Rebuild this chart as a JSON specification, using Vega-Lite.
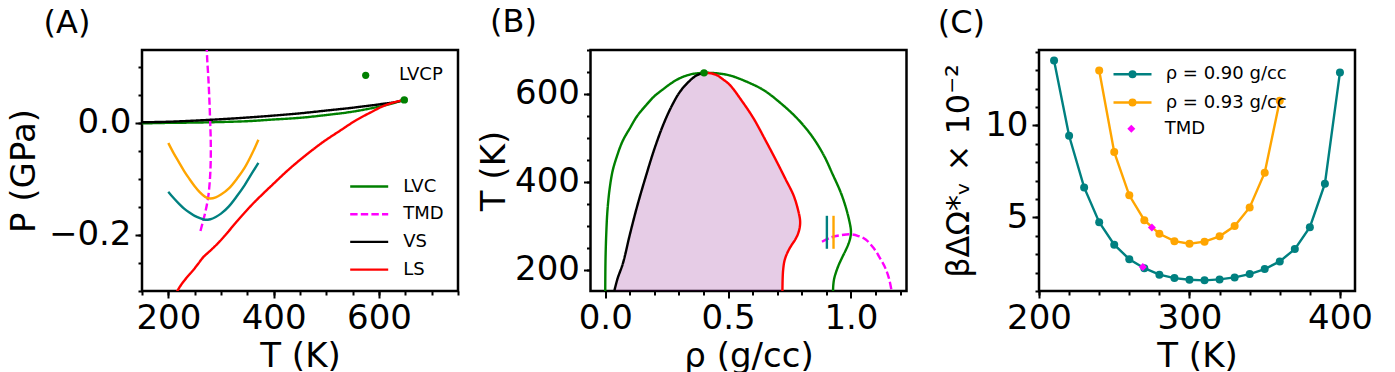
{
 "$schema": "https://vega.github.io/schema/vega-lite/v6.json",
 "padding": {"left": 5, "top": 4, "right": 10, "bottom": 2},
 "bounds": "flush",
 "spacing": 132.5,
 "config": {
  "font": "DejaVu Sans",
  "view": {"stroke": "black", "strokeWidth": 2.5},
  "axis": {"grid": false, "domain": false, "labelFont": "DejaVu Sans", "labelFontSize": 34, "labelColor": "black", "titleFont": "DejaVu Sans", "titleFontSize": 34, "titleFontWeight": "normal", "titleColor": "black", "tickColor": "black", "tickWidth": 2, "labelOverlap": false, "labelFlush": false, "titleBaseline": "alphabetic"},
  "axisX": {"labelPadding": 3, "titleY": 75},
  "axisY": {"labelPadding": 4},
  "legend": {"labelFont": "DejaVu Sans", "labelFontSize": 18, "labelColor": "black", "padding": 0, "orient": "none"},
  "title": {"font": "DejaVu Sans", "fontSize": 32, "fontWeight": "normal", "color": "black", "anchor": "start", "frame": "group", "baseline": "alphabetic", "offset": 10}
 },
 "resolve": {"scale": {"color": "independent", "shape": "independent", "strokeDash": "independent", "stroke": "independent"}, "legend": {"color": "independent", "shape": "independent", "strokeDash": "independent"}},
 "datasets": {
  "A_lines": [
   {"curve":"LVC","T":150,"P":-0.001},{"curve":"LVC","T":200,"P":0.0},{"curve":"LVC","T":250,"P":0.0005},{"curve":"LVC","T":300,"P":0.0015},{"curve":"LVC","T":350,"P":0.003},{"curve":"LVC","T":400,"P":0.006},{"curve":"LVC","T":450,"P":0.009},{"curve":"LVC","T":500,"P":0.014},{"curve":"LVC","T":550,"P":0.020},{"curve":"LVC","T":600,"P":0.029},{"curve":"LVC","T":630,"P":0.036},{"curve":"LVC","T":648,"P":0.041},
   {"curve":"TMD","T":261,"P":-0.193},{"curve":"TMD","T":266,"P":-0.175},{"curve":"TMD","T":271,"P":-0.156},{"curve":"TMD","T":276,"P":-0.130},{"curve":"TMD","T":279,"P":-0.100},{"curve":"TMD","T":280.5,"P":-0.067},{"curve":"TMD","T":280.5,"P":-0.030},{"curve":"TMD","T":279.5,"P":0.0},{"curve":"TMD","T":278,"P":0.04},{"curve":"TMD","T":276,"P":0.08},{"curve":"TMD","T":274,"P":0.11},{"curve":"TMD","T":273,"P":0.13},{"curve":"TMD","T":272.5,"P":0.14},
   {"curve":"VS","T":150,"P":0.001},{"curve":"VS","T":200,"P":0.002},{"curve":"VS","T":250,"P":0.004},{"curve":"VS","T":300,"P":0.0065},{"curve":"VS","T":350,"P":0.0095},{"curve":"VS","T":400,"P":0.013},{"curve":"VS","T":450,"P":0.017},{"curve":"VS","T":500,"P":0.022},{"curve":"VS","T":550,"P":0.027},{"curve":"VS","T":600,"P":0.033},{"curve":"VS","T":630,"P":0.037},{"curve":"VS","T":648,"P":0.041},
   {"curve":"LS","T":212,"P":-0.308},{"curve":"LS","T":217,"P":-0.300},{"curve":"LS","T":225,"P":-0.288},{"curve":"LS","T":235,"P":-0.276},{"curve":"LS","T":247,"P":-0.263},{"curve":"LS","T":257,"P":-0.251},{"curve":"LS","T":266,"P":-0.240},{"curve":"LS","T":282,"P":-0.226},{"curve":"LS","T":297,"P":-0.212},{"curve":"LS","T":313,"P":-0.195},{"curve":"LS","T":329,"P":-0.177},{"curve":"LS","T":346,"P":-0.159},{"curve":"LS","T":364,"P":-0.141},{"curve":"LS","T":397,"P":-0.111},{"curve":"LS","T":430,"P":-0.082},{"curve":"LS","T":462,"P":-0.057},{"curve":"LS","T":494,"P":-0.034},{"curve":"LS","T":526,"P":-0.014},{"curve":"LS","T":557,"P":0.005},{"curve":"LS","T":585,"P":0.019},{"curve":"LS","T":608,"P":0.030},{"curve":"LS","T":630,"P":0.037},{"curve":"LS","T":648,"P":0.041}
  ],
  "A_iso": [
   {"rho":"0.90","T":200,"P":-0.123},{"rho":"0.90","T":210,"P":-0.134},{"rho":"0.90","T":220,"P":-0.144},{"rho":"0.90","T":230,"P":-0.153},{"rho":"0.90","T":240,"P":-0.160},{"rho":"0.90","T":250,"P":-0.166},{"rho":"0.90","T":260,"P":-0.170},{"rho":"0.90","T":270,"P":-0.173},{"rho":"0.90","T":280,"P":-0.172},{"rho":"0.90","T":290,"P":-0.168},{"rho":"0.90","T":300,"P":-0.162},{"rho":"0.90","T":315,"P":-0.149},{"rho":"0.90","T":330,"P":-0.131},{"rho":"0.90","T":345,"P":-0.111},{"rho":"0.90","T":360,"P":-0.088},{"rho":"0.90","T":371,"P":-0.0715},
   {"rho":"0.93","T":200,"P":-0.036},{"rho":"0.93","T":210,"P":-0.054},{"rho":"0.93","T":220,"P":-0.070},{"rho":"0.93","T":230,"P":-0.086},{"rho":"0.93","T":240,"P":-0.100},{"rho":"0.93","T":250,"P":-0.113},{"rho":"0.93","T":260,"P":-0.124},{"rho":"0.93","T":270,"P":-0.132},{"rho":"0.93","T":280,"P":-0.135},{"rho":"0.93","T":290,"P":-0.133},{"rho":"0.93","T":300,"P":-0.128},{"rho":"0.93","T":315,"P":-0.117},{"rho":"0.93","T":330,"P":-0.100},{"rho":"0.93","T":345,"P":-0.080},{"rho":"0.93","T":360,"P":-0.053},{"rho":"0.93","T":371,"P":-0.030}
  ],
  "A_cp": [{"name":"LVCP","T":648,"P":0.041}],
  "B_area": [
   {"T":152,"rho_vs":0.036,"rho_ls":0.721},{"T":180,"rho_vs":0.050,"rho_ls":0.722},{"T":215,"rho_vs":0.072,"rho_ls":0.728},{"T":250,"rho_vs":0.087,"rho_ls":0.752},{"T":280,"rho_vs":0.100,"rho_ls":0.783},{"T":310,"rho_vs":0.114,"rho_ls":0.793},{"T":345,"rho_vs":0.130,"rho_ls":0.780},{"T":370,"rho_vs":0.143,"rho_ls":0.766},{"T":416,"rho_vs":0.167,"rho_ls":0.725},{"T":446,"rho_vs":0.184,"rho_ls":0.698},{"T":475,"rho_vs":0.200,"rho_ls":0.671},{"T":497,"rho_vs":0.214,"rho_ls":0.650},{"T":530,"rho_vs":0.236,"rho_ls":0.618},{"T":545,"rho_vs":0.248,"rho_ls":0.603},{"T":572,"rho_vs":0.270,"rho_ls":0.571},{"T":585,"rho_vs":0.283,"rho_ls":0.555},{"T":605,"rho_vs":0.304,"rho_ls":0.528},{"T":620,"rho_vs":0.327,"rho_ls":0.508},{"T":633,"rho_vs":0.351,"rho_ls":0.480},{"T":642,"rho_vs":0.371,"rho_ls":0.455},{"T":648,"rho_vs":0.402,"rho_ls":0.402}
  ],
  "B_lines": [
   {"curve":"LVC","rho":0.000,"T":152},{"curve":"LVC","rho":0.001,"T":220},{"curve":"LVC","rho":0.004,"T":280},{"curve":"LVC","rho":0.009,"T":335},{"curve":"LVC","rho":0.018,"T":385},{"curve":"LVC","rho":0.030,"T":425},{"curve":"LVC","rho":0.045,"T":454},{"curve":"LVC","rho":0.070,"T":492},{"curve":"LVC","rho":0.100,"T":522},{"curve":"LVC","rho":0.130,"T":550},{"curve":"LVC","rho":0.167,"T":575},{"curve":"LVC","rho":0.200,"T":595},{"curve":"LVC","rho":0.236,"T":611},{"curve":"LVC","rho":0.270,"T":625},{"curve":"LVC","rho":0.304,"T":636},{"curve":"LVC","rho":0.350,"T":645},{"curve":"LVC","rho":0.402,"T":648},{"curve":"LVC","rho":0.455,"T":647},{"curve":"LVC","rho":0.508,"T":642},{"curve":"LVC","rho":0.575,"T":628},{"curve":"LVC","rho":0.644,"T":609},{"curve":"LVC","rho":0.712,"T":580},{"curve":"LVC","rho":0.780,"T":545},{"curve":"LVC","rho":0.840,"T":505},{"curve":"LVC","rho":0.889,"T":461},{"curve":"LVC","rho":0.925,"T":418},{"curve":"LVC","rho":0.957,"T":378},{"curve":"LVC","rho":0.977,"T":346},{"curve":"LVC","rho":0.991,"T":317},{"curve":"LVC","rho":0.998,"T":298},{"curve":"LVC","rho":1.000,"T":287},{"curve":"LVC","rho":0.997,"T":272},{"curve":"LVC","rho":0.989,"T":258},{"curve":"LVC","rho":0.978,"T":244},{"curve":"LVC","rho":0.964,"T":228},{"curve":"LVC","rho":0.950,"T":211},{"curve":"LVC","rho":0.940,"T":196},{"curve":"LVC","rho":0.932,"T":181},{"curve":"LVC","rho":0.928,"T":165},{"curve":"LVC","rho":0.927,"T":150},
   {"curve":"VS","rho":0.036,"T":150},{"curve":"VS","rho":0.050,"T":180},{"curve":"VS","rho":0.072,"T":215},{"curve":"VS","rho":0.100,"T":280},{"curve":"VS","rho":0.130,"T":345},{"curve":"VS","rho":0.167,"T":416},{"curve":"VS","rho":0.200,"T":475},{"curve":"VS","rho":0.236,"T":530},{"curve":"VS","rho":0.270,"T":572},{"curve":"VS","rho":0.304,"T":605},{"curve":"VS","rho":0.340,"T":628},{"curve":"VS","rho":0.371,"T":642},{"curve":"VS","rho":0.402,"T":648},
   {"curve":"LS","rho":0.402,"T":648},{"curve":"LS","rho":0.430,"T":647},{"curve":"LS","rho":0.453,"T":643},{"curve":"LS","rho":0.480,"T":633},{"curve":"LS","rho":0.508,"T":620},{"curve":"LS","rho":0.555,"T":585},{"curve":"LS","rho":0.603,"T":545},{"curve":"LS","rho":0.650,"T":497},{"curve":"LS","rho":0.698,"T":446},{"curve":"LS","rho":0.735,"T":405},{"curve":"LS","rho":0.766,"T":370},{"curve":"LS","rho":0.783,"T":340},{"curve":"LS","rho":0.793,"T":312},{"curve":"LS","rho":0.791,"T":295},{"curve":"LS","rho":0.783,"T":280},{"curve":"LS","rho":0.770,"T":266},{"curve":"LS","rho":0.759,"T":257},{"curve":"LS","rho":0.742,"T":240},{"curve":"LS","rho":0.730,"T":222},{"curve":"LS","rho":0.724,"T":200},{"curve":"LS","rho":0.722,"T":180},{"curve":"LS","rho":0.721,"T":150},
   {"curve":"TMD","rho":0.882,"T":264},{"curve":"TMD","rho":0.920,"T":274},{"curve":"TMD","rho":0.960,"T":279},{"curve":"TMD","rho":0.998,"T":281},{"curve":"TMD","rho":1.030,"T":277},{"curve":"TMD","rho":1.060,"T":269},{"curve":"TMD","rho":1.093,"T":249},{"curve":"TMD","rho":1.120,"T":225},{"curve":"TMD","rho":1.140,"T":204},{"curve":"TMD","rho":1.155,"T":180},{"curve":"TMD","rho":1.166,"T":150}
  ],
  "B_rules": [{"curve":"0.90","rho":0.902,"T1":248,"T2":323},{"curve":"0.93","rho":0.929,"T1":248,"T2":323}],
  "B_cp": [{"rho":0.402,"T":648}],
  "C_pts": [
   {"series":"ρ = 0.90 g/cc","T":210,"v":13.53},{"series":"ρ = 0.90 g/cc","T":220,"v":9.44},{"series":"ρ = 0.90 g/cc","T":230,"v":6.63},{"series":"ρ = 0.90 g/cc","T":240,"v":4.74},{"series":"ρ = 0.90 g/cc","T":250,"v":3.52},{"series":"ρ = 0.90 g/cc","T":260,"v":2.73},{"series":"ρ = 0.90 g/cc","T":270,"v":2.24},{"series":"ρ = 0.90 g/cc","T":280,"v":1.89},{"series":"ρ = 0.90 g/cc","T":290,"v":1.70},{"series":"ρ = 0.90 g/cc","T":300,"v":1.61},{"series":"ρ = 0.90 g/cc","T":310,"v":1.58},{"series":"ρ = 0.90 g/cc","T":320,"v":1.63},{"series":"ρ = 0.90 g/cc","T":330,"v":1.74},{"series":"ρ = 0.90 g/cc","T":340,"v":1.92},{"series":"ρ = 0.90 g/cc","T":350,"v":2.19},{"series":"ρ = 0.90 g/cc","T":360,"v":2.61},{"series":"ρ = 0.90 g/cc","T":370,"v":3.28},{"series":"ρ = 0.90 g/cc","T":380,"v":4.47},{"series":"ρ = 0.90 g/cc","T":390,"v":6.83},{"series":"ρ = 0.90 g/cc","T":400,"v":12.88},
   {"series":"ρ = 0.93 g/cc","T":240,"v":12.99},{"series":"ρ = 0.93 g/cc","T":250,"v":8.55},{"series":"ρ = 0.93 g/cc","T":260,"v":6.20},{"series":"ρ = 0.93 g/cc","T":270,"v":4.85},{"series":"ρ = 0.93 g/cc","T":280,"v":4.11},{"series":"ρ = 0.93 g/cc","T":290,"v":3.71},{"series":"ρ = 0.93 g/cc","T":300,"v":3.57},{"series":"ρ = 0.93 g/cc","T":310,"v":3.68},{"series":"ρ = 0.93 g/cc","T":320,"v":3.97},{"series":"ρ = 0.93 g/cc","T":330,"v":4.53},{"series":"ρ = 0.93 g/cc","T":340,"v":5.54},{"series":"ρ = 0.93 g/cc","T":350,"v":7.43},{"series":"ρ = 0.93 g/cc","T":360,"v":11.34}
  ],
  "C_tmd": [{"name":"TMD","T":275,"v":4.45},{"name":"TMD","T":269,"v":2.30}]
 },
 "hconcat": [
  {
   "width": 316, "height": 241,
   "title": {"text": "(A)", "dx": -98.5},
   "resolve": {"axis": {"x": "independent", "y": "independent"}},
   "layer": [
    {
     "data": {"name": "A_lines"},
     "mark": {"type": "line", "strokeWidth": 2.4, "clip": true, "interpolate": "catmull-rom"},
     "encoding": {
      "x": {"field": "T", "type": "quantitative", "scale": {"domain": [150, 750], "nice": false, "zero": false},
            "axis": {"values": [200,400,600], "format": "d", "tickSize": 7, "title": "T (K)", "orient": "bottom"}},
      "y": {"field": "P", "type": "quantitative", "scale": {"domain": [-0.3, 0.13], "nice": false, "zero": false},
            "axis": {"values": [-0.2,0], "format": ".1f", "tickSize": 7, "title": "P (GPa)", "titleX": -108, "orient": "left"}},
      "color": {"field": "curve", "type": "nominal", "scale": {"domain": ["LVC","TMD","VS","LS"], "range": ["#008000","#ff00ff","#000000","#ff0000"]},
                "legend": {"title": null, "orient": "none", "legendX": 217.7, "legendY": 127, "symbolType": "M-2.375,0H2.375", "symbolSize": 256, "symbolStrokeWidth": 2.4, "labelOffset": 24.6, "rowPadding": 8.7}},
      "strokeDash": {"field": "curve", "type": "nominal", "scale": {"domain": ["LVC","TMD","VS","LS"], "range": [[1,0],[7.4,3.2],[1,0],[1,0]]},
                "legend": {"title": null, "orient": "none", "legendX": 217.7, "legendY": 127, "symbolType": "M-2.375,0H2.375", "symbolSize": 256, "symbolStrokeWidth": 2.4, "labelOffset": 24.6, "rowPadding": 8.7}},
      "order": {"value": null}
     }
    },
    {
     "data": {"name": "A_iso"},
     "mark": {"type": "line", "strokeWidth": 2.4, "clip": true, "interpolate": "monotone"},
     "encoding": {
      "x": {"field": "T", "type": "quantitative", "axis": {"values": [150,200,250,300,350,400,450,500,550,600,650,700,750], "labels": false, "tickSize": 4, "title": null, "orient": "bottom"}},
      "y": {"field": "P", "type": "quantitative", "axis": {"values": [-0.3,-0.25,-0.2,-0.15,-0.1,-0.05,0,0.05,0.1], "labels": false, "tickSize": 4, "title": null, "orient": "left"}},
      "stroke": {"field": "rho", "type": "nominal", "scale": {"domain": ["0.90","0.93"], "range": ["#008080","#ffa500"]}, "legend": null}
     }
    },
    {
     "data": {"name": "A_cp"},
     "mark": {"type": "point", "filled": true, "color": "#008000", "size": 56, "opacity": 1},
     "encoding": {
      "x": {"field": "T", "type": "quantitative", "axis": null},
      "y": {"field": "P", "type": "quantitative", "axis": null},
      "shape": {"field": "name", "type": "nominal", "scale": {"domain": ["LVCP"], "range": ["circle"]},
                "legend": {"title": null, "orient": "none", "legendX": 214.7, "legendY": 16.3, "symbolSize": 52, "labelOffset": 24.3, "symbolFillColor": "#008000", "symbolStrokeColor": "#008000"}}
     }
    }
   ]
  },
  {
   "width": 316, "height": 241,
   "title": {"text": "(B)", "dx": -100.5},
   "resolve": {"axis": {"x": "independent", "y": "independent"}},
   "layer": [
    {
     "data": {"name": "B_area"},
     "mark": {"type": "area", "orient": "horizontal", "color": "#800080", "opacity": 0.2, "clip": true},
     "encoding": {
      "y": {"field": "T", "type": "quantitative", "scale": {"domain": [152, 700], "nice": false, "zero": false},
            "axis": {"values": [200,400,600], "format": "d", "tickSize": 7, "title": "T (K)", "titleX": -85.8, "orient": "left"}},
      "x": {"field": "rho_vs", "type": "quantitative", "scale": {"domain": [-0.06, 1.226], "nice": false, "zero": false},
            "axis": {"values": [0,0.5,1.0], "format": ".1f", "tickSize": 7, "title": "ρ (g/cc)", "orient": "bottom"}},
      "x2": {"field": "rho_ls"},
      "order": {"value": null}
     }
    },
    {
     "data": {"name": "B_lines"},
     "mark": {"type": "line", "strokeWidth": 2.4, "clip": true, "interpolate": "catmull-rom"},
     "encoding": {
      "x": {"field": "rho", "type": "quantitative", "axis": {"values": [0,0.1,0.2,0.3,0.4,0.5,0.6,0.7,0.8,0.9,1.0,1.1,1.2], "labels": false, "tickSize": 4, "title": null, "orient": "bottom"}},
      "y": {"field": "T", "type": "quantitative", "axis": {"values": [200,250,300,350,400,450,500,550,600,650,700], "labels": false, "tickSize": 4, "title": null, "orient": "left"}},
      "color": {"field": "curve", "type": "nominal", "scale": {"domain": ["LVC","VS","LS","TMD","0.90","0.93"], "range": ["#008000","#000000","#ff0000","#ff00ff","#008080","#ffa500"]}, "legend": null},
      "strokeDash": {"field": "curve", "type": "nominal", "scale": {"domain": ["LVC","VS","LS","TMD"], "range": [[1,0],[1,0],[1,0],[7.4,3.2]]}, "legend": null},
      "order": {"value": null}
     }
    },
    {
     "data": {"name": "B_rules"},
     "mark": {"type": "rule", "strokeWidth": 2.4},
     "encoding": {
      "x": {"field": "rho", "type": "quantitative", "axis": null},
      "y": {"field": "T1", "type": "quantitative", "axis": null},
      "y2": {"field": "T2"},
      "color": {"field": "curve", "type": "nominal", "legend": null}
     }
    },
    {
     "data": {"name": "B_cp"},
     "mark": {"type": "point", "filled": true, "color": "#008000", "size": 56, "opacity": 1},
     "encoding": {
      "x": {"field": "rho", "type": "quantitative", "axis": null},
      "y": {"field": "T", "type": "quantitative", "axis": null}
     }
    }
   ]
  },
  {
   "width": 316, "height": 241,
   "title": {"text": "(C)", "dx": -101.3},
   "resolve": {"axis": {"x": "independent", "y": "independent"}},
   "layer": [
    {
     "data": {"name": "C_pts"},
     "mark": {"type": "line", "strokeWidth": 2.4, "point": {"filled": true, "size": 64, "opacity": 1}},
     "encoding": {
      "x": {"field": "T", "type": "quantitative", "scale": {"domain": [200, 410], "nice": false, "zero": false},
            "axis": {"values": [200,300,400], "format": "d", "tickSize": 7, "title": "T (K)", "orient": "bottom"}},
      "y": {"field": "v", "type": "quantitative", "scale": {"domain": [1.0, 14.1], "nice": false, "zero": false},
            "axis": {"values": [5,10], "format": "d", "tickSize": 7, "title": "βΔΩ*ᵥ × 10⁻²", "titleFontSize": 32, "titleX": -71, "orient": "left"}},
      "color": {"field": "series", "type": "nominal", "scale": {"domain": ["ρ = 0.90 g/cc","ρ = 0.93 g/cc"], "range": ["#008080","#ffa500"]},
                "legend": {"title": null, "orient": "none", "legendX": 84, "legendY": 14.7, "symbolType": "M-2.375,0H2.375M0.35,0A0.35,0.35,0,1,1,-0.35,0A0.35,0.35,0,1,1,0.35,0M0.2,0A0.2,0.2,0,1,1,-0.2,0A0.2,0.2,0,1,1,0.2,0M0.05,0A0.05,0.05,0,1,1,-0.05,0A0.05,0.05,0,1,1,0.05,0", "symbolSize": 256, "symbolStrokeWidth": 2.4, "labelOffset": 23.7, "rowPadding": 9.3}}
     }
    },
    {
     "data": {"name": "C_tmd"},
     "mark": {"type": "point", "filled": true, "color": "#ff00ff", "size": 64, "opacity": 1},
     "encoding": {
      "x": {"field": "T", "type": "quantitative", "axis": {"values": [200,220,240,260,280,300,320,340,360,380,400], "labels": false, "tickSize": 4, "title": null, "orient": "bottom"}},
      "y": {"field": "v", "type": "quantitative", "axis": {"values": [1,2,3,4,5,6,7,8,9,10,11,12,13,14], "labels": false, "tickSize": 4, "title": null, "orient": "left"}},
      "shape": {"field": "name", "type": "nominal", "scale": {"domain": ["TMD"], "range": ["diamond"]},
                "legend": {"title": null, "orient": "none", "legendX": 83.3, "legendY": 69.7, "symbolSize": 64, "labelOffset": 24.4, "symbolFillColor": "#ff00ff"}}
     }
    }
   ]
  }
 ]
}
